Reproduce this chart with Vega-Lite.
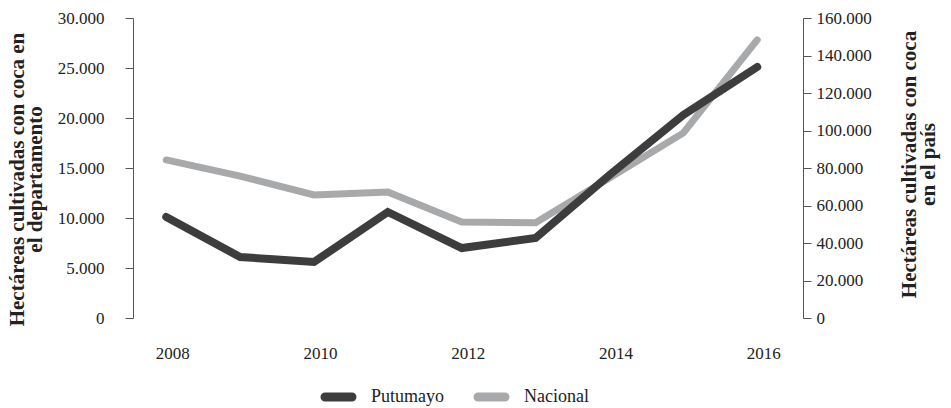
{
  "$schema": "https://vega.github.io/schema/vega-lite/v6.json",
  "width": 670,
  "height": 300,
  "autosize": "none",
  "padding": {"left": 133, "top": 18, "right": 148, "bottom": 90},
  "background": "white",
  "config": {
    "font": "Liberation Serif",
    "view": {"stroke": null},
    "axis": {"labelFont": "Liberation Serif", "titleFont": "Liberation Serif", "labelColor": "#222222", "titleColor": "#222222", "grid": false, "labelFontSize": 17},
    "legend": {"labelFont": "Liberation Serif", "labelFontSize": 18, "labelColor": "#222222"}
  },
  "data": {
    "values": [
      {"year": 2008, "serie": "Putumayo", "value": 10100},
      {"year": 2009, "serie": "Putumayo", "value": 6100},
      {"year": 2010, "serie": "Putumayo", "value": 5600},
      {"year": 2011, "serie": "Putumayo", "value": 10600},
      {"year": 2012, "serie": "Putumayo", "value": 7000},
      {"year": 2013, "serie": "Putumayo", "value": 8000},
      {"year": 2014, "serie": "Putumayo", "value": 14300},
      {"year": 2015, "serie": "Putumayo", "value": 20300},
      {"year": 2016, "serie": "Putumayo", "value": 25100},
      {"year": 2008, "serie": "Nacional", "value": 84300},
      {"year": 2009, "serie": "Nacional", "value": 75700},
      {"year": 2010, "serie": "Nacional", "value": 65600},
      {"year": 2011, "serie": "Nacional", "value": 67200},
      {"year": 2012, "serie": "Nacional", "value": 51200},
      {"year": 2013, "serie": "Nacional", "value": 50800},
      {"year": 2014, "serie": "Nacional", "value": 74700},
      {"year": 2015, "serie": "Nacional", "value": 98700},
      {"year": 2016, "serie": "Nacional", "value": 148300}
    ]
  },
  "encoding": {
    "x": {
      "field": "year",
      "type": "quantitative",
      "scale": {"domain": [2007.55, 2016.62], "nice": false, "zero": false},
      "axis": {"values": [2008, 2010, 2012, 2014, 2016], "format": "d", "domain": false, "ticks": false, "labelPadding": 27, "title": null, "labelOffset": 6}
    },
    "color": {
      "field": "serie",
      "type": "nominal",
      "scale": {"domain": ["Putumayo", "Nacional"], "range": ["#3d3d3d", "#a8a9ab"]},
      "legend": {"title": null, "orient": "none", "direction": "horizontal", "legendX": 184, "legendY": 357, "symbolType": "M-0.77,-0.03L0.77,-0.03A0.03,0.03,0,0,1,0.77,0.03L-0.77,0.03A0.03,0.03,0,0,1,-0.77,-0.03Z", "symbolStrokeWidth": 8, "symbolSize": 1225, "labelOffset": 11, "columnPadding": 16}
    }
  },
  "layer": [
    {
      "transform": [{"filter": "datum.serie === 'Nacional'"}],
      "mark": {"type": "line", "strokeWidth": 7, "strokeCap": "round"},
      "encoding": {
        "y": {
          "field": "value",
          "type": "quantitative",
          "scale": {"domain": [0, 160000], "nice": false},
          "axis": {
            "orient": "right",
            "values": [0, 20000, 40000, 60000, 80000, 100000, 120000, 140000, 160000],
            "labelExpr": "replace(format(datum.value, ','), ',', '.')",
            "tickSize": 8, "labelPadding": 5, "domainColor": "#555555", "tickColor": "#555555",
            "title": ["Hectáreas cultivadas con coca", "en el país"],
            "titleFontSize": 21, "titleFontWeight": "bold", "titleAngle": -90, "titleBaseline": "bottom",
            "titleAlign": "center", "titleX": 116, "titleY": 146, "titleLineHeight": 19
          }
        }
      }
    },
    {
      "transform": [{"filter": "datum.serie === 'Putumayo'"}],
      "mark": {"type": "line", "strokeWidth": 8, "strokeCap": "round"},
      "encoding": {
        "y": {
          "field": "value",
          "type": "quantitative",
          "scale": {"domain": [0, 30000], "nice": false},
          "axis": {
            "orient": "left",
            "values": [0, 5000, 10000, 15000, 20000, 25000, 30000],
            "labelExpr": "replace(format(datum.value, ','), ',', '.')",
            "tickSize": 8, "labelPadding": 21, "domainColor": "#555555", "tickColor": "#555555",
            "title": ["Hectáreas cultivadas con coca en", "el departamento"],
            "titleFontSize": 21, "titleFontWeight": "bold", "titleAngle": -90, "titleBaseline": "bottom",
            "titleAlign": "center", "titleX": -106, "titleY": 161, "titleLineHeight": 18
          }
        }
      }
    }
  ],
  "resolve": {"scale": {"y": "independent"}}
}
